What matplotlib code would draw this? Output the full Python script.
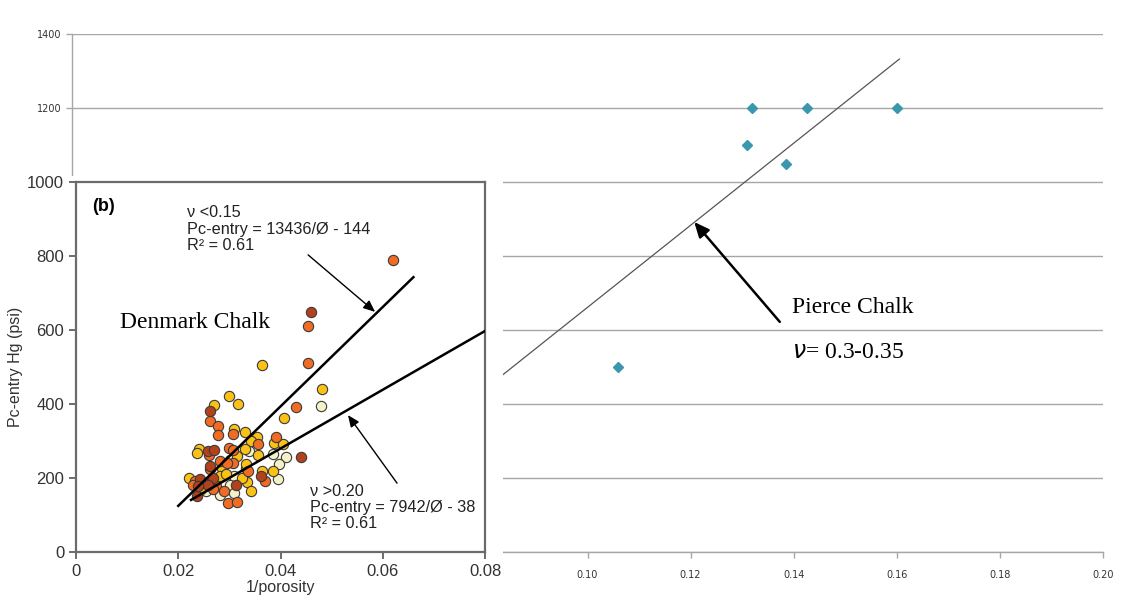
import matplotlib
matplotlib.use("Agg")
import matplotlib.pyplot as plt
from matplotlib.patches import Rectangle
import numpy as np

# ---------------- data ----------------
# Pierce Chalk (outer chart)
pierce_x = [0.106, 0.131, 0.132, 0.1385, 0.1425, 0.160]
pierce_y = [500, 1100, 1200, 1050, 1200, 1200]
pierce_fit_slope = 11092.0
pierce_fit_intercept = -448.0
pierce_fit_x = [0.040, 0.1605]
outer_xticks = [0.10, 0.12, 0.14, 0.16, 0.18, 0.20]
outer_yticks = [0, 200, 400, 600, 800, 1000, 1200, 1400]
outer_yticklabels = ["", "", "", "", "", "", "1200", "1400"]

# Denmark Chalk (inset chart)
dk_dark_x = [0.0459, 0.0263, 0.0259, 0.0270, 0.0262, 0.0440, 0.0362, 0.0242, 0.0268,
             0.0259, 0.0313, 0.0236, 0.0239]
dk_dark_y = [650, 380, 273, 275, 232, 257, 205, 196, 200, 182, 180, 151, 178]

dk_orange_x = [0.0620, 0.0454, 0.0454, 0.0431, 0.0262, 0.0278, 0.0277, 0.0307, 0.0356,
               0.0391, 0.0369, 0.0337, 0.0260, 0.0300, 0.0307, 0.0307, 0.0281, 0.0296,
               0.0263, 0.0233, 0.0250, 0.0274, 0.0289, 0.0268, 0.0298, 0.0315, 0.0228]
dk_orange_y = [790, 611, 510, 391, 354, 341, 315, 320, 291,
               311, 191, 219, 261, 282, 276, 241, 246, 241,
               223, 191, 187, 178, 164, 169, 133, 136, 182]

dk_gold_x = [0.0363, 0.0482, 0.0407, 0.0300, 0.0317, 0.0269, 0.0310, 0.0331, 0.0355,
             0.0343, 0.0388, 0.0404, 0.0331, 0.0356, 0.0386, 0.0363, 0.0335, 0.0343,
             0.0333, 0.0333, 0.0241, 0.0237, 0.0315, 0.0285, 0.0222, 0.0281, 0.0293,
             0.0324, 0.0245]
dk_gold_y = [506, 441, 362, 421, 400, 397, 332, 325, 311,
             300, 295, 291, 279, 261, 218, 219, 189, 164,
             228, 239, 279, 268, 259, 228, 200, 205, 210,
             200, 169]

dk_pale_x = [0.0479, 0.0339, 0.0386, 0.0410, 0.0397, 0.0396, 0.0301, 0.0310, 0.0301,
             0.0310, 0.0281, 0.0255]
dk_pale_y = [395, 273, 264, 257, 239, 196, 250, 205, 182, 160, 155, 164]

fit1_slope, fit1_intercept, fit1_x = 13436, -144, [0.020, 0.066]
fit2_slope, fit2_intercept, fit2_x = 7942, -38, [0.0225, 0.080]
inset_xticks = [0, 0.02, 0.04, 0.06, 0.08]
inset_xticklabels = ["0", "0.02", "0.04", "0.06", "0.08"]
inset_yticks = [0, 200, 400, 600, 800, 1000]

# ---------------- figure ----------------
W, H = 1148, 597
fig = plt.figure(figsize=(W / 100, H / 100), dpi=100)
fig.patch.set_facecolor("white")

def fx(px):
    return px / W

def fy(py):
    return 1 - py / H

# outer axes
ax = fig.add_axes([fx(72), fy(552), fx(1103) - fx(72), fy(34) - fy(552)])
ax.set_zorder(0)
ax.set_xlim(0, 0.20)
ax.set_ylim(0, 1400)
ax.set_xticks(outer_xticks)
ax.set_xticklabels([f"{v:.2f}" for v in outer_xticks])
ax.set_yticks(outer_yticks)
ax.set_yticklabels(outer_yticklabels)
ax.grid(axis="y", color="#a6a6a6", linewidth=1.0)
ax.set_axisbelow(True)
for s in ["top", "right"]:
    ax.spines[s].set_visible(False)
for s in ["left", "bottom"]:
    ax.spines[s].set_color("#a6a6a6")
    ax.spines[s].set_linewidth(1.0)
ax.tick_params(axis="both", labelsize=7, colors="#a6a6a6", labelcolor="#333333",
               length=4, width=1.0, direction="out")
ax.tick_params(axis="x", pad=9)

fxs = np.array(pierce_fit_x)
ax.plot(fxs, pierce_fit_slope * fxs + pierce_fit_intercept, color="#555555", lw=0.9, zorder=2)
ax.plot(pierce_x, pierce_y, linestyle="none", marker="D", ms=5.5,
        color="#3a97ad", mec="#3a97ad", zorder=3)

ax.annotate("", xy=(0.1207, 892), xytext=(0.1373, 622),
            arrowprops=dict(arrowstyle="-|>,head_length=0.9,head_width=0.4",
                            color="black", lw=1.8, shrinkA=0, shrinkB=0))
ax.text(0.1397, 660, "Pierce Chalk", fontsize=17, family="Liberation Serif",
        va="center", ha="left", color="black")
ax.text(0.1397, 540, r"$\nu$= 0.3-0.35", fontsize=17, family="Liberation Serif",
        va="center", ha="left", color="black")

# white cover behind inset
cover = Rectangle((0, 0), fx(503), fy(176), transform=fig.transFigure,
                  facecolor="white", edgecolor="none", zorder=1)
fig.add_artist(cover)

# inset axes
ia = fig.add_axes([fx(76), fy(552), fx(485) - fx(76), fy(182) - fy(552)])
ia.set_zorder(2)
ia.set_xlim(0, 0.08)
ia.set_ylim(0, 1000)
ia.set_xticks(inset_xticks)
ia.set_xticklabels(inset_xticklabels)
ia.set_yticks(inset_yticks)
for s in ia.spines.values():
    s.set_color("#6b6b6b")
    s.set_linewidth(1.6)
ia.tick_params(axis="both", labelsize=12, colors="#6b6b6b", labelcolor="#333333",
               length=5, width=1.4, direction="out")
for lab in ia.get_xticklabels() + ia.get_yticklabels():
    lab.set_family("Liberation Sans")
ia.set_xlabel("1/porosity", fontsize=11.5, family="Liberation Sans", color="#333333", labelpad=1)
ia.set_ylabel("Pc-entry Hg (psi)", fontsize=11.5, family="Liberation Sans", color="#333333",
              labelpad=3)

kw = dict(s=55, edgecolors="#3a3a3a", linewidths=0.8, zorder=3)
ia.scatter(dk_pale_x, dk_pale_y, c="#f4f1c6", **kw)
ia.scatter(dk_gold_x, dk_gold_y, c="#fbc216", **kw)
ia.scatter(dk_orange_x, dk_orange_y, c="#f26b22", **kw)
ia.scatter(dk_dark_x, dk_dark_y, c="#b3411c", **kw)

x1 = np.array(fit1_x)
ia.plot(x1, fit1_slope * x1 + fit1_intercept, color="black", lw=1.8, zorder=4)
x2 = np.array(fit2_x)
ia.plot(x2, fit2_slope * x2 + fit2_intercept, color="black", lw=1.8, zorder=4)

ia.text(0.0031, 935, "(b)", fontsize=13, fontweight="bold", family="Liberation Sans",
        va="center", ha="left")
ia.text(0.0087, 620, "Denmark Chalk", fontsize=17, family="Liberation Serif",
        va="center", ha="left")
ia.text(0.0217, 937, "\u03bd <0.15\nPc-entry = 13436/\u00d8 - 144\nR\u00b2 = 0.61",
        fontsize=11.7, family="Liberation Sans", va="top", ha="left",
        linespacing=1.1, color="#222222")
ia.text(0.0458, 184, "\u03bd >0.20\nPc-entry = 7942/\u00d8 - 38\nR\u00b2 = 0.61",
        fontsize=11.7, family="Liberation Sans", va="top", ha="left",
        linespacing=1.1, color="#222222")
ia.annotate("", xy=(0.0585, 649), xytext=(0.0454, 803),
            arrowprops=dict(arrowstyle="-|>,head_length=0.7,head_width=0.3",
                            color="black", lw=1.0, shrinkA=0, shrinkB=0))
ia.annotate("", xy=(0.0532, 370), xytext=(0.0628, 186),
            arrowprops=dict(arrowstyle="-|>,head_length=0.7,head_width=0.3",
                            color="black", lw=1.0, shrinkA=0, shrinkB=0))

fig.savefig("out.png", dpi=100, facecolor="white")
